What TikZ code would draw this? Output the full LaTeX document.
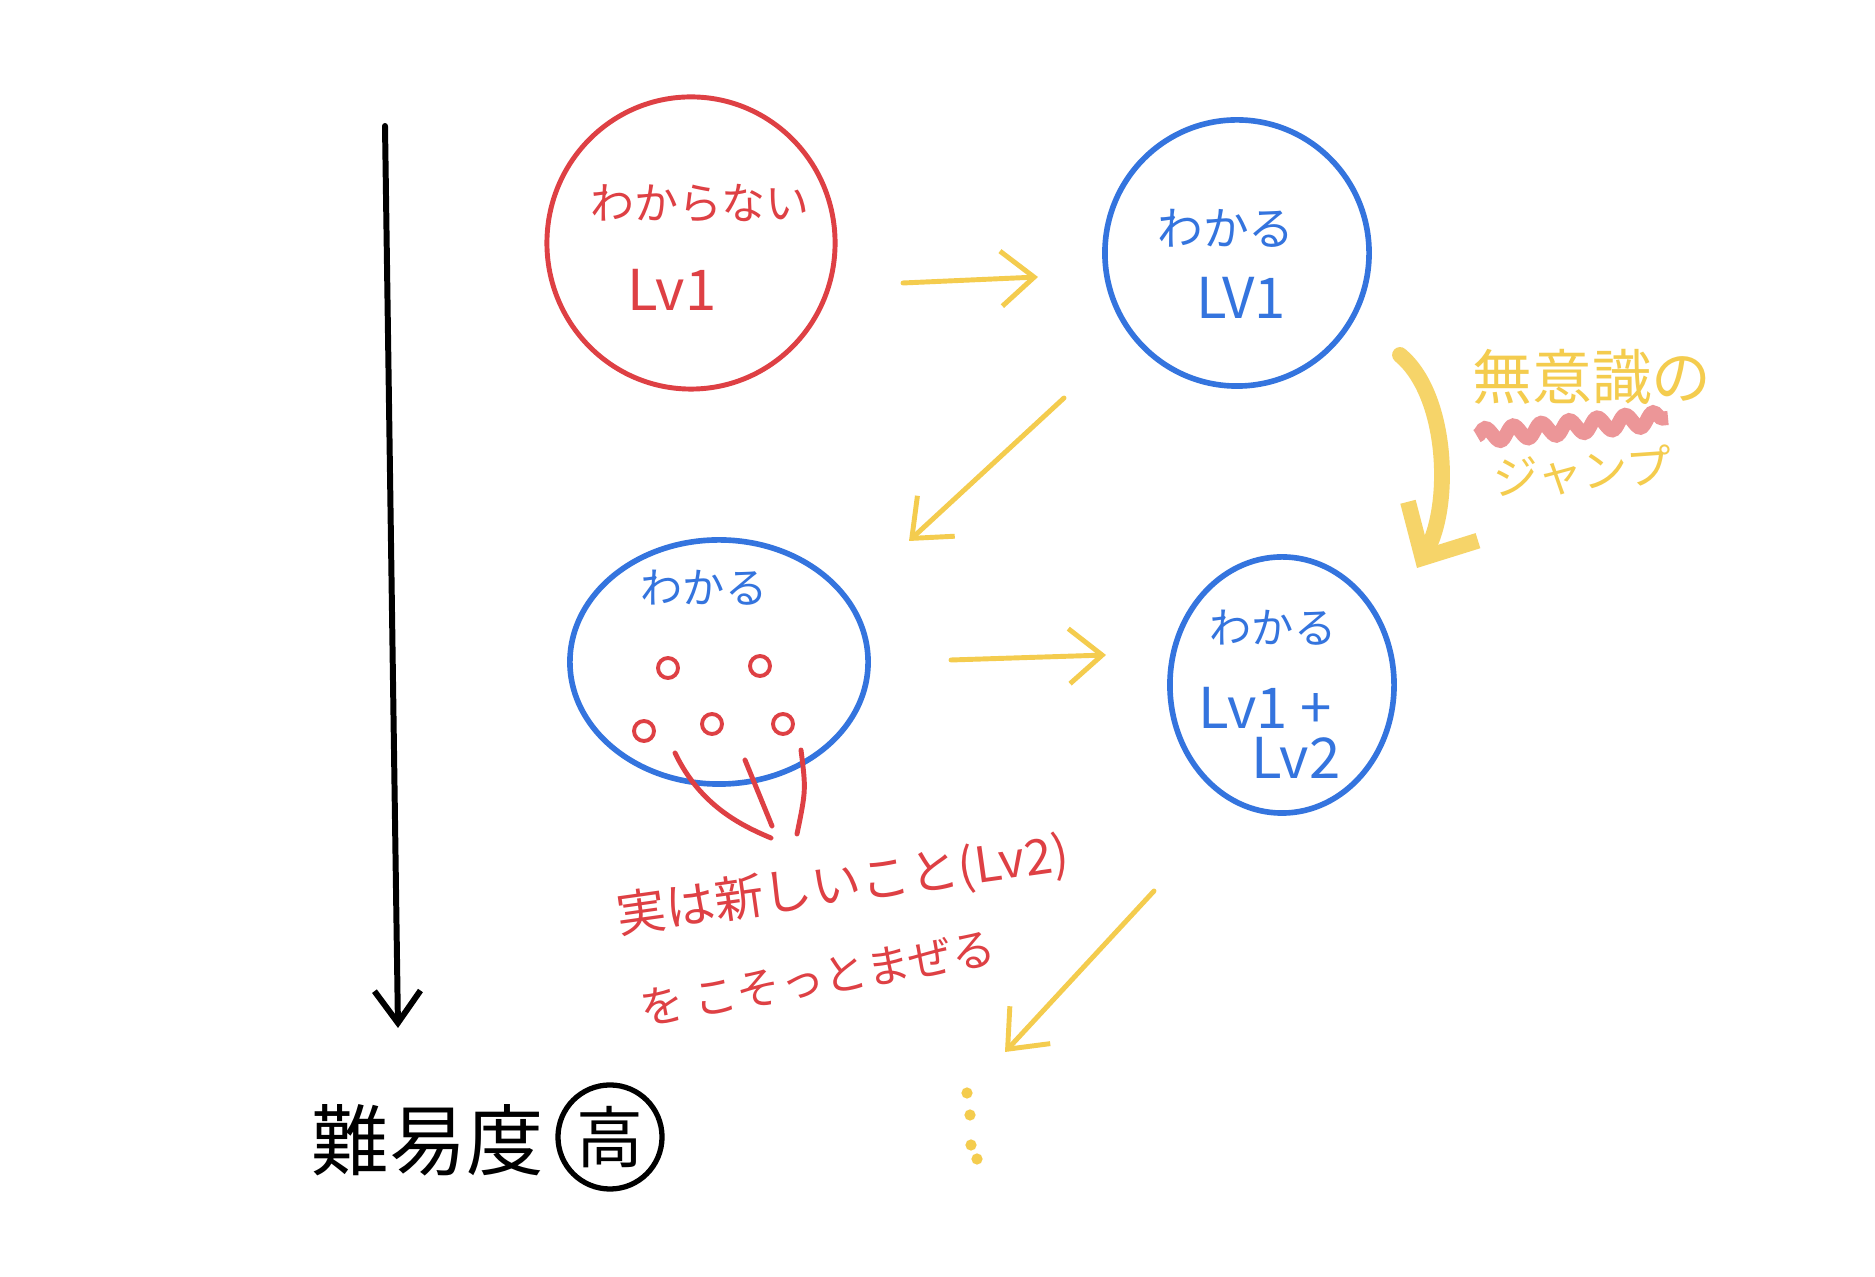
\documentclass[tikz,border=0pt]{standalone}
\usepackage{fontspec}
\setmainfont{Noto Sans CJK JP}
\usetikzlibrary{shapes.geometric,arrows.meta,decorations.pathmorphing}
\definecolor{penred}{RGB}{222,64,68}
\definecolor{penblue}{RGB}{52,116,222}
\definecolor{penyellow}{RGB}{244,204,78}
\tikzstyle{redring}=[ellipse,draw=penred,line width=1.4pt,inner sep=0pt]
\tikzstyle{bluering}=[ellipse,draw=penblue,line width=1.6pt,inner sep=0pt]
\tikzstyle{reddot}=[circle,draw=penred,line width=1.1pt,inner sep=0pt,
                    minimum size=2mm]
\tikzstyle{redtxt}=[text=penred,inner sep=0pt]
\tikzstyle{bluetxt}=[text=penblue,inner sep=0pt]
\tikzstyle{yelarrow}=[draw=penyellow,line width=1.4pt,line cap=round,
                      -{Straight Barb[length=3.3mm,width=5.5mm]}]

\begin{document}
\begin{tikzpicture}[x=0.01cm,y=-0.01cm]
    \newcommand{\hand}[1]{\fontsize{#1}{#1}\selectfont}
    \useasboundingbox (0,0) rectangle (1875,1277);
    \fill[white] (0,0) rectangle (1875,1277);
    % difficulty axis
    \coordinate (top) at (385,126);
    \coordinate (bot) at (398,1028);
    \draw[line width=1.7pt,line cap=round,
          -{Straight Barb[length=3.2mm,width=4.6mm]}] (top) -- (bot);
    \node (level) at (428,1140) [inner sep=0pt]{\hand{22pt}難易度};
    \node (high) at (610,1137) [circle,draw,line width=1.5pt,
          minimum size=10.4mm,inner sep=0pt]{\hand{19pt}高};
    % circles
    \node (c1) at (691,243) [redring,minimum width=28.8mm,minimum height=29.2mm]{};
    \node (c2) at (1237,253) [bluering,minimum width=26.4mm,minimum height=26.6mm]{};
    \node (c3) at (719,662) [bluering,minimum width=29.8mm,minimum height=24.4mm]{};
    \node (c4) at (1282,685) [bluering,minimum width=22.4mm,minimum height=25.6mm]{};
    \node (t1a) at (700,203) [redtxt]{\hand{12.5pt}わからない};
    \node (t1b) at (672,290) [redtxt]{\hand{16pt}Lv1};
    \node (t2a) at (1226,228) [bluetxt]{\hand{13pt}わかる};
    \node (t2b) at (1241,298) [bluetxt]{\hand{16pt}LV1};
    \node (t3a) at (704,588) [bluetxt]{\hand{12pt}わかる};
    \node (t4a) at (1273,628) [bluetxt]{\hand{12pt}わかる};
    \node (t4b) at (1265,708) [bluetxt]{\hand{16pt}Lv1 +};
    \node (t4c) at (1296,758) [bluetxt]{\hand{16pt}Lv2};
    % hidden new bits
    \node (d1) at (668,668) [reddot]{};
    \node (d2) at (760,666) [reddot]{};
    \node (d3) at (644,731) [reddot]{};
    \node (d4) at (712,724) [reddot]{};
    \node (d5) at (783,724) [reddot]{};
    \coordinate (la) at (675,753);
    \coordinate (lb) at (745,760);
    \coordinate (lc) at (801,750);
    \coordinate (tip) at (771,838);
    \draw[penred,line width=1.4pt,line cap=round]
        (la) .. controls (700,805) and (740,825) .. (tip);
    \draw[penred,line width=1.4pt,line cap=round] (lb) -- (772,826);
    \draw[penred,line width=1.4pt,line cap=round]
        (lc) .. controls (806,790) .. (797,834);
    \node (note1) at (843,886) [redtxt,rotate=8]{\hand{14pt}実は新しいこと(Lv2)};
    \node (note2) at (818,978) [redtxt,rotate=10]{\hand{12.5pt}を こそっとまぜる};
    % steps
    \coordinate (a1s) at (903,283);
    \coordinate (a1e) at (1038,277);
    \coordinate (a2s) at (1064,398);
    \coordinate (a2e) at (909,541);
    \coordinate (a3s) at (951,660);
    \coordinate (a3e) at (1106,655);
    \coordinate (a4s) at (1154,891);
    \coordinate (a4e) at (1005,1052);
    \draw[yelarrow] (a1s) -- (a1e);
    \draw[yelarrow] (a2s) -- (a2e);
    \draw[yelarrow] (a3s) -- (a3e);
    \draw[yelarrow] (a4s) -- (a4e);
    \foreach \px/\py in {967/1093,970/1115,971/1145,977/1159}
        \fill[penyellow] (\px,\py) circle (1.6pt);
    % jump
    \coordinate (js) at (1400,355);
    \coordinate (je) at (1417,568);
    \draw[penyellow!85!white,line width=4.5pt,line cap=round,
          -{Straight Barb[length=4.2mm,width=8mm]}]
        (js) .. controls (1448,395) and (1452,505) .. (je);
    \draw[penred,opacity=0.55,line width=4pt,
          decorate,decoration={snake,segment length=8pt,amplitude=2pt}]
        (1477,436) -- (1668,418);
    \node (jump1) at (1592,377) [text=penyellow,inner sep=0pt]{\hand{17pt}無意識の};
    \node (jump2) at (1583,472) [text=penyellow,inner sep=0pt,rotate=4]{\hand{13pt}ジャンプ};
\end{tikzpicture}
\end{document}
